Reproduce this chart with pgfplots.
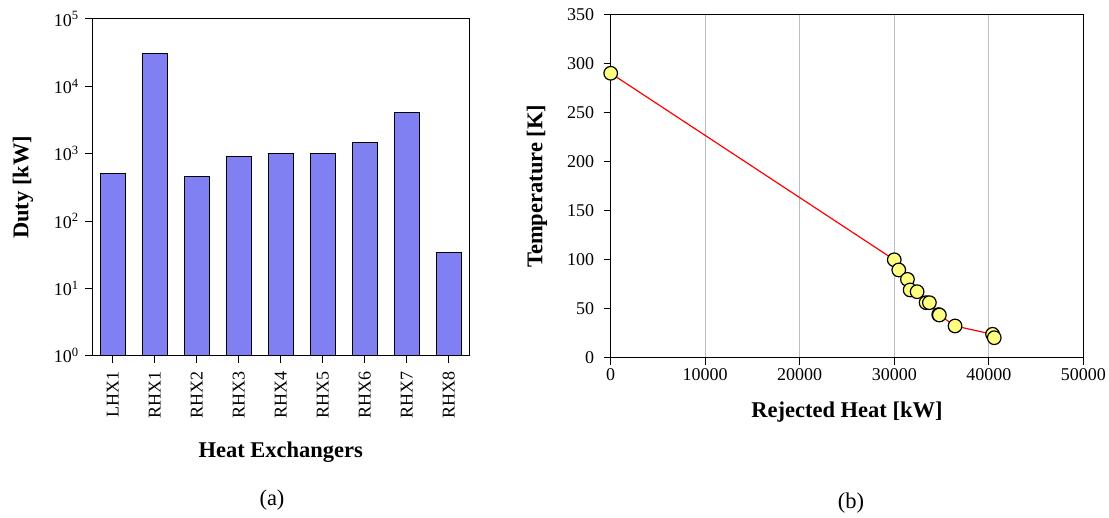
\documentclass[border=0pt]{standalone}
\usepackage{fontspec}
\setmainfont{Liberation Serif}
\usepackage{pgfplots}
\pgfplotsset{compat=1.18}
\definecolor{barfill}{RGB}{128,128,242}
\definecolor{mkfill}{RGB}{255,255,128}
\definecolor{gridgray}{RGB}{190,190,190}
\begin{document}
\begin{tikzpicture}[x=1pt,y=1pt]
\useasboundingbox (0,0) rectangle (1109,517);
\begin{axis}[
  at={(92.3pt,161.3pt)}, anchor=south west,
  scale only axis, width=377pt, height=336.7pt,
  ymode=log, ymin=1, ymax=1e5,
  xmin=-0.486, xmax=8.49,
  ybar, bar width=25.3pt,
  xtick={0,...,8},
  xticklabels={LHX1,RHX1,RHX2,RHX3,RHX4,RHX5,RHX6,RHX7,RHX8},
  ytick={1,10,100,1000,10000,100000},
  yticklabels={10\textsuperscript{0},10\textsuperscript{1},10\textsuperscript{2},10\textsuperscript{3},10\textsuperscript{4},10\textsuperscript{5}},
  yminorticks=false,
  tick align=outside, xtick pos=bottom, ytick pos=left,
  major tick length=7pt,
  tick style={black, line width=1pt},
  axis line style={black, line width=1pt},
  ticklabel style={font=\fontsize{18}{20}\selectfont},
  xticklabel style={rotate=90, anchor=east},
  xticklabel shift=5pt,
  yticklabel shift=3pt,
  xlabel={\textbf{Heat Exchangers}},
  ylabel={\textbf{Duty [kW]}},
  label style={font=\fontsize{22.5}{25}\selectfont},
  xlabel style={at={(axis description cs:0.5,-0.286)}, anchor=center},
  ylabel style={at={(axis description cs:-0.184,0.5)}, anchor=center},
]
\addplot[draw=black, line width=1pt, fill=barfill] coordinates {
  (0,510) (1,30500) (2,466) (3,923) (4,990) (5,990) (6,1490) (7,4060) (8,34.6)
};
\end{axis}
\begin{axis}[
  at={(610.7pt,159.3pt)}, anchor=south west,
  scale only axis, width=472.6pt, height=342.7pt,
  xmin=0, xmax=50000, ymin=0, ymax=350,
  xtick={0,10000,...,50000}, ytick={0,50,...,350},
  /pgf/number format/1000 sep={},
  /pgf/number format/assume math mode=true,
  scaled x ticks=false,
  xmajorgrids, grid style={gridgray, line width=0.8pt},
  tick align=outside, xtick pos=bottom, ytick pos=left,
  major tick length=7pt,
  tick style={black, line width=1pt},
  axis line style={black, line width=1pt},
  ticklabel style={font=\fontsize{18}{20}\selectfont},
  yticklabel shift=6pt,
  xlabel={\textbf{Rejected Heat [kW]}},
  ylabel={\textbf{Temperature [K]}},
  label style={font=\fontsize{22.5}{25}\selectfont},
  xlabel style={at={(axis description cs:0.5,-0.158)}, anchor=center},
  ylabel style={at={(axis description cs:-0.156,0.5)}, anchor=center},
  clip=false,
]
\addplot[red, line width=1.2pt, mark=*, mark size=6.8pt,
  mark options={fill=mkfill, draw=black, line width=1.2pt}] coordinates {
  (0,290.5) (30000,100) (30475,89.6) (31394,80) (31679,69.2) (32418,67.4)
  (33368,56.2) (33717,56.2) (34700,44) (34773,43.6) (36431,32.4)
  (40401,23.9) (40581,20.4)
};
\end{axis}
\node[font=\fontsize{22.5}{25}\selectfont] at (272,17) {(a)};
\node[font=\fontsize{22.5}{25}\selectfont] at (851,14) {(b)};
\end{tikzpicture}
\end{document}
